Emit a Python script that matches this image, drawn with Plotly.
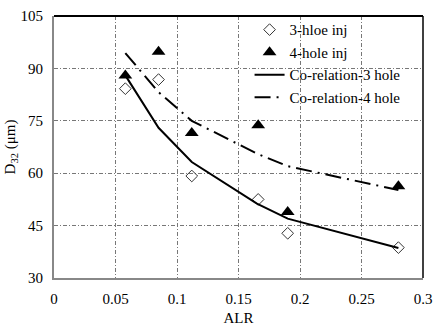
import plotly.graph_objects as go

# Data
alr_pts = [0.058, 0.085, 0.112, 0.166, 0.190, 0.280]
d32_3hole = [84.2, 86.8, 59.2, 52.5, 42.8, 38.7]
d32_4hole = [88.0, 94.8, 71.5, 73.7, 48.9, 56.3]
alr_fit = [0.058, 0.085, 0.112, 0.165, 0.190, 0.280]
fit_3hole = [88.0, 73.0, 63.2, 51.3, 47.0, 38.6]
fit_4hole = [94.4, 83.2, 75.0, 65.6, 62.0, 55.2]

x_ticks = [0, 0.05, 0.1, 0.15, 0.2, 0.25, 0.3]
x_labels = ["0", "0.05", "0.1", "0.15", "0.2", "0.25", "0.3"]
y_ticks = [30, 45, 60, 75, 90, 105]

FONT = "Liberation Serif"
tf = dict(family=FONT, size=15, color="black")

fig = go.Figure()
fig.add_trace(go.Scatter(
    x=alr_pts, y=d32_3hole, mode="markers", name="3-hloe inj",
    marker=dict(symbol="diamond-open", size=9, color="#333", line=dict(width=1, color="#333"))))
fig.add_trace(go.Scatter(
    x=alr_pts, y=d32_4hole, mode="markers", name="4-hole inj",
    marker=dict(symbol="triangle-up", size=12, color="black")))
fig.add_trace(go.Scatter(
    x=alr_fit, y=fit_3hole, mode="lines", name="Co-relation-3 hole",
    line=dict(color="black", width=2)))
fig.add_trace(go.Scatter(
    x=alr_fit, y=fit_4hole, mode="lines", name="Co-relation-4 hole",
    line=dict(color="black", width=2, dash="16px,6px,2px,6px")))

grid = dict(showgrid=True, gridcolor="#777", gridwidth=1, griddash="4px,2px,1px,2px")

fig.update_layout(
    width=439, height=331,
    margin=dict(l=54, r=16, t=16, b=53),
    paper_bgcolor="white", plot_bgcolor="white",
    font=tf,
    showlegend=True,
    legend=dict(x=0.53, y=1.01, xanchor="left", yanchor="top",
                bgcolor="rgba(0,0,0,0)", font=tf,
                itemwidth=30, tracegroupgap=0),
    xaxis=dict(range=[0, 0.3], tickvals=x_ticks, ticktext=x_labels, tickfont=tf,
               showline=True, linecolor="#888", linewidth=2, ticks="",
               ticklabelstandoff=6, automargin=False,
               zeroline=False, title=dict(text="ALR", standoff=6, font=tf), **grid),
    yaxis=dict(range=[30, 105], tickvals=y_ticks, tickfont=tf,
               showline=True, linecolor="#888", linewidth=2, ticks="",
               ticklabelstandoff=6, automargin=False,
               zeroline=False, title=dict(text="D<sub>32</sub> (μm)", standoff=1, font=tf), **grid),
    shapes=[
        dict(type="line", xref="paper", yref="paper", x0=0, x1=1, y0=1, y1=1,
             line=dict(color="black", width=2)),
        dict(type="line", xref="paper", yref="paper", x0=1, x1=1, y0=0, y1=1,
             line=dict(color="black", width=1.5)),
    ],
)
fig.write_html("out.html")
